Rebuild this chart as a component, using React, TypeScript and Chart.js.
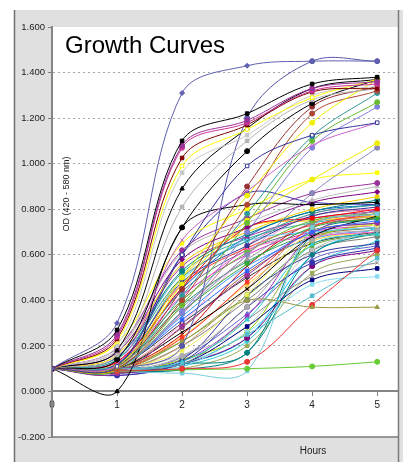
import React, { useEffect, useRef } from "react";
import { Chart, registerables } from "chart.js";

Chart.register(...registerables);

const hours = [0, 1, 2, 3, 4, 5];

// Fast growers (reach > 1.0 OD)
const fastGrowers = [
  [0.10, 0.30, 1.31, 1.43, 1.45, 1.45],
  [0.10, 0.27, 1.10, 1.22, 1.35, 1.38],
  [0.10, 0.25, 1.08, 1.19, 1.33, 1.36],
  [0.10, 0.24, 1.07, 1.18, 1.32, 1.35],
  [0.10, 0.23, 1.025, 1.17, 1.315, 1.33],
  [0.10, 0.22, 0.99, 1.15, 1.29, 1.37],
  [0.10, 0.20, 0.96, 1.125, 1.30, 1.34],
  [0.10, 0.18, 0.89, 1.155, 1.33, 1.37],
  [0.10, 0.16, 0.81, 1.10, 1.28, 1.33],
  [0.10, 0.14, 0.72, 1.055, 1.265, 1.37],
  [0.10, 0.11, 0.60, 0.99, 1.125, 1.18],
  [0.10, 0.12, 0.665, 0.88, 1.08, 1.18],
  [0.10, 0.11, 0.50, 0.86, 1.18, 1.37],
  [0.10, 0.11, 0.45, 0.90, 1.25, 1.34],
  [0.10, 0.10, 0.40, 0.82, 1.22, 1.32],
  [0.10, 0.11, 0.42, 0.78, 1.12, 1.31],
  [0.10, 0.10, 0.38, 0.74, 1.10, 1.27],
  [0.10, 0.10, 0.35, 0.70, 1.07, 1.25],
  [0.10, 0.10, 0.47, 0.75, 0.93, 1.09],
  [0.10, 0.10, 0.35, 0.60, 0.87, 1.07],
  [0.10, 0.10, 0.20, 1.20, 1.45, 1.45],
];
const fastColors = [
  "#6060b0", "#000000", "#993399", "#cc3399", "#800000", "#ffff00", "#c8c8c8",
  "#000000", "#b4b4b4", "#000000", "#333399", "#cc66cc", "#f0f000", "#993333",
  "#b04433", "#339999", "#66bb33", "#8080dd", "#eeee00", "#8888bb", "#5555aa",
];
const fastMarkers = [
  "rectRot", "rect", "circle", "circle", "rect", "rect", "rect",
  "triangle", "rect", "circle", "rect", "crossRot", "circle", "circle",
  "circle", "circle", "circle", "circle", "circle", "circle", "circle",
];
const fastOpen = [false, false, false, false, false, true, false, false, false, false, true, false, false, false, false, false, false, false, false, false, false];

// Medium growers (0.5 - 1.0 OD)
const midGrowers = [
  [0.10, 0.21, 0.65, 0.80, 0.93, 0.96],
  [0.10, 0.19, 0.62, 0.76, 0.87, 0.915],
  [0.10, 0.18, 0.61, 0.74, 0.84, 0.90],
  [0.10, 0.17, 0.58, 0.72, 0.83, 0.876],
  [0.10, 0.16, 0.56, 0.70, 0.80, 0.855],
  [0.10, 0.15, 0.53, 0.69, 0.79, 0.84],
  [0.10, 0.14, 0.50, 0.66, 0.78, 0.82],
  [0.10, 0.13, 0.455, 0.72, 0.76, 0.80],
  [0.10, 0.12, 0.48, 0.64, 0.77, 0.81],
  [0.10, 0.12, 0.40, 0.61, 0.75, 0.78],
  [0.10, 0.11, 0.37, 0.58, 0.74, 0.79],
  [0.10, 0.09, 0.35, 0.56, 0.72, 0.76],
  [0.10, 0.11, 0.315, 0.53, 0.70, 0.75],
  [0.10, 0.08, 0.285, 0.51, 0.70, 0.74],
  [0.10, 0.10, 0.26, 0.45, 0.68, 0.77],
  [0.10, 0.09, 0.235, 0.48, 0.72, 0.78],
  [0.10, 0.10, 0.18, 0.425, 0.70, 0.73],
  [0.10, 0.09, 0.155, 0.37, 0.665, 0.71],
  [0.10, 0.10, 0.13, 0.315, 0.645, 0.69],
  [0.10, 0.09, 0.095, 0.17, 0.60, 0.70],
  [0.10, 0.10, 0.14, 0.425, 0.60, 0.65],
  [0.10, 0.07, 0.13, 0.37, 0.565, 0.63],
  [0.10, 0.10, 0.12, 0.315, 0.505, 0.565],
  [0.10, 0.09, 0.12, 0.285, 0.49, 0.54],
  [0.10, 0.10, 0.11, 0.26, 0.47, 0.505],
  [0.10, 0.08, 0.12, 0.235, 0.55, 0.62],
  [0.10, 0.13, 0.40, 0.62, 0.68, 0.70],
  [0.10, 0.12, 0.49, 0.66, 0.70, 0.72],
  [0.10, 0.12, 0.50, 0.72, 0.75, 0.77],
  [0.10, 0.11, 0.60, 0.87, 0.83, 0.82],
  [0.10, 0.10, 0.30, 0.60, 0.78, 0.80],
  [0.10, 0.09, 0.20, 0.45, 0.72, 0.77],
  [0.10, 0.09, 0.16, 0.285, 0.62, 0.70],
  [0.10, 0.08, 0.14, 0.26, 0.66, 0.74],
  [0.10, 0.09, 0.12, 0.235, 0.60, 0.72],
  [0.10, 0.11, 0.30, 0.50, 0.65, 0.70],
  [0.10, 0.07, 0.13, 0.33, 0.69, 0.80],
  [0.10, 0.09, 0.12, 0.17, 0.69, 0.76],
  [0.10, 0.10, 0.25, 0.55, 0.74, 0.78],
  [0.10, 0.09, 0.22, 0.42, 0.64, 0.69],
  [0.10, 0.15, 0.55, 0.68, 0.76, 0.79],
  [0.10, 0.14, 0.52, 0.67, 0.74, 0.77],
  [0.10, 0.13, 0.47, 0.63, 0.73, 0.76],
  [0.10, 0.12, 0.44, 0.62, 0.71, 0.74],
  [0.10, 0.12, 0.42, 0.60, 0.70, 0.73],
  [0.10, 0.11, 0.38, 0.57, 0.69, 0.72],
  [0.10, 0.10, 0.33, 0.55, 0.67, 0.71],
  [0.10, 0.10, 0.28, 0.52, 0.68, 0.72],
  [0.10, 0.09, 0.24, 0.47, 0.66, 0.70],
  [0.10, 0.09, 0.20, 0.40, 0.62, 0.68],
  [0.10, 0.08, 0.15, 0.34, 0.58, 0.64],
  [0.10, 0.08, 0.11, 0.22, 0.55, 0.66],
  [0.10, 0.09, 0.10, 0.20, 0.52, 0.60],
  [0.10, 0.11, 0.34, 0.64, 0.77, 0.80],
  [0.10, 0.12, 0.45, 0.68, 0.79, 0.82],
];
const midColors = [
  "#ffff00", "#993399", "#bbbbbb", "#800080", "#eecc00", "#008080", "#339999", "#ff0000",
  "#333399", "#66bb33", "#999999", "#33aa33", "#3366ff", "#993399", "#000000", "#ff3333",
  "#eeee55", "#aaaaaa", "#33cccc", "#008080", "#333399", "#3333aa", "#888888", "#000080",
  "#88ddee", "#800080", "#ff66cc", "#66ccff", "#ffcc00", "#3333aa", "#ff99cc", "#cc9966",
  "#c0c0c0", "#99cc00", "#00ccff", "#333333", "#9933cc", "#008080", "#cc0000", "#66aa33",
  "#993399", "#33aaaa", "#ff3333", "#666699", "#cc33cc", "#339966", "#3399ff", "#996633",
  "#ffcc33", "#808080", "#6666cc", "#33cccc", "#99aa55", "#cc6699", "#0066cc",
];
const midMarkers = ["rect", "circle", "triangle", "rectRot", "rect", "circle", "crossRot", "rect"];

// Unusual curves: late / stalled / non-growing
const oddCurves = [
  [0.10, 0.00, 0.72, 0.82, 0.82, 0.83],
  [0.10, 0.10, 0.22, 0.40, 0.37, 0.37],
  [0.10, 0.09, 0.10, 0.13, 0.38, 0.62],
  [0.10, 0.09, 0.095, 0.10, 0.11, 0.13],
  [0.10, 0.09, 0.08, 0.09, 0.72, 0.78],
  [0.10, 0.10, 0.12, 0.25, 0.42, 0.585],
];
const oddColors = ["#000000", "#999944", "#ee3333", "#66cc33", "#77ccdd", "#55bbcc"];
const oddMarkers = ["triangle", "triangle", "circle", "circle", "rect", "rect"];

const makeSet = (values: number[], color: string, marker: string, open: boolean) => ({
  data: values.map((v, i) => ({ x: hours[i], y: v })),
  borderColor: color,
  backgroundColor: color,
  pointBackgroundColor: open ? "#ffffff" : color,
  pointBorderColor: color,
  pointStyle: marker,
  pointRadius: 2.5,
  pointBorderWidth: 1,
  borderWidth: 1,
  tension: 0.35,
  fill: false,
});

const FONT = '"Liberation Sans", Arial, sans-serif';

const framePlugin = {
  id: "frame",
  beforeDraw(chart: any) {
    const { ctx, chartArea: a, width, height } = chart;
    ctx.save();
    ctx.fillStyle = "#ffffff";
    ctx.fillRect(0, 0, width, height);
    ctx.fillStyle = "#e0e0e0";
    ctx.fillRect(14, 10, width - 14, height - 10);
    ctx.fillStyle = "#ffffff";
    ctx.fillRect(a.left, a.top, a.right - a.left, a.bottom - a.top);
    ctx.strokeStyle = "#707070";
    ctx.lineWidth = 1.5;
    ctx.beginPath();
    ctx.moveTo(14.5, 10);
    ctx.lineTo(14.5, height);
    ctx.stroke();
    ctx.restore();
  },
  beforeDatasetsDraw(chart: any) {
    const { ctx } = chart;
    ctx.save();
    ctx.fillStyle = "#000000";
    ctx.font = `24px ${FONT}`;
    ctx.textAlign = "left";
    ctx.textBaseline = "alphabetic";
    ctx.fillText("Growth Curves", 65, 53);
    ctx.font = `9px ${FONT}`;
    ctx.fillStyle = "#222222";
    ctx.translate(67, 194);
    ctx.rotate(-Math.PI / 2);
    ctx.textAlign = "center";
    ctx.textBaseline = "middle";
    ctx.fillText("OD (420 - 580 nm)", 0, 0);
    ctx.restore();
  },
  afterDraw(chart: any) {
    const { ctx, chartArea: a, height } = chart;
    ctx.save();
    ctx.strokeStyle = "#7a7a7a";
    ctx.lineWidth = 1.5;
    ctx.beginPath();
    ctx.moveTo(a.left, a.bottom);
    ctx.lineTo(a.right, a.bottom);
    ctx.moveTo(a.right + 0.5, 10);
    ctx.lineTo(a.right + 0.5, height);
    ctx.stroke();
    ctx.fillStyle = "#222222";
    ctx.font = `10px ${FONT}`;
    ctx.textAlign = "center";
    ctx.textBaseline = "middle";
    ctx.fillText("Hours", 313, 451);
    ctx.restore();
  },
};

export default function App() {
  const ref = useRef<HTMLCanvasElement | null>(null);

  useEffect(() => {
    if (!ref.current) return;
    const datasets: any[] = [];
    fastGrowers.forEach((v, i) => datasets.push(makeSet(v, fastColors[i], fastMarkers[i], fastOpen[i])));
    oddCurves.forEach((v, i) => datasets.push(makeSet(v, oddColors[i], oddMarkers[i], false)));
    midGrowers.forEach((v, i) =>
      datasets.push(makeSet(v, midColors[i % midColors.length], midMarkers[i % midMarkers.length], false))
    );

    const chart = new Chart(ref.current, {
      type: "line",
      data: { datasets },
      plugins: [framePlugin],
      options: {
        responsive: false,
        animation: false,
        devicePixelRatio: 1,
        events: [],
        layout: { padding: { top: 27, bottom: 25, left: 0, right: 2 } },
        plugins: { legend: { display: false }, tooltip: { enabled: false }, title: { display: false } },
        scales: {
          x: {
            type: "linear",
            position: { y: 0 } as any,
            min: 0,
            max: 5.32,
            ticks: {
              stepSize: 1,
              includeBounds: false,
              padding: 4,
              color: "#222222",
              font: { family: FONT, size: 10 },
              callback: (v: any) => String(v),
            },
            grid: { drawOnChartArea: false, drawTicks: true, tickLength: 4, tickColor: "#808080", tickWidth: 1 },
            border: { display: true, color: "#858585", width: 2 },
          },
          y: {
            type: "linear",
            min: -0.2,
            max: 1.6,
            afterFit: (scale: any) => {
              scale.width = 52;
            },
            ticks: {
              stepSize: 0.2,
              padding: 3,
              color: "#222222",
              font: { family: FONT, size: 9.5 },
              callback: (v: any) => Number(v).toFixed(3),
            },
            grid: {
              color: (c: any) => {
                const v = c.tick ? c.tick.value : 1;
                if (Math.abs(v) < 1e-9 || Math.abs(v + 0.2) < 1e-9 || Math.abs(v - 1.6) < 1e-9) return "rgba(0,0,0,0)";
                return "#a8a8a8";
              },
              lineWidth: 1,
              tickLength: 4,
              tickColor: "#808080",
              tickWidth: 1,
              tickBorderDash: [],
            },
            border: { display: true, color: "#858585", width: 2, dash: [2, 3] },
          },
        },
      },
    });
    return () => chart.destroy();
  }, []);

  return (
    <div style={{ position: "fixed", left: 0, top: 0, width: 403, height: 462 }}>
      <canvas ref={ref} width={403} height={462} style={{ display: "block", width: 403, height: 462 }} />
    </div>
  );
}
